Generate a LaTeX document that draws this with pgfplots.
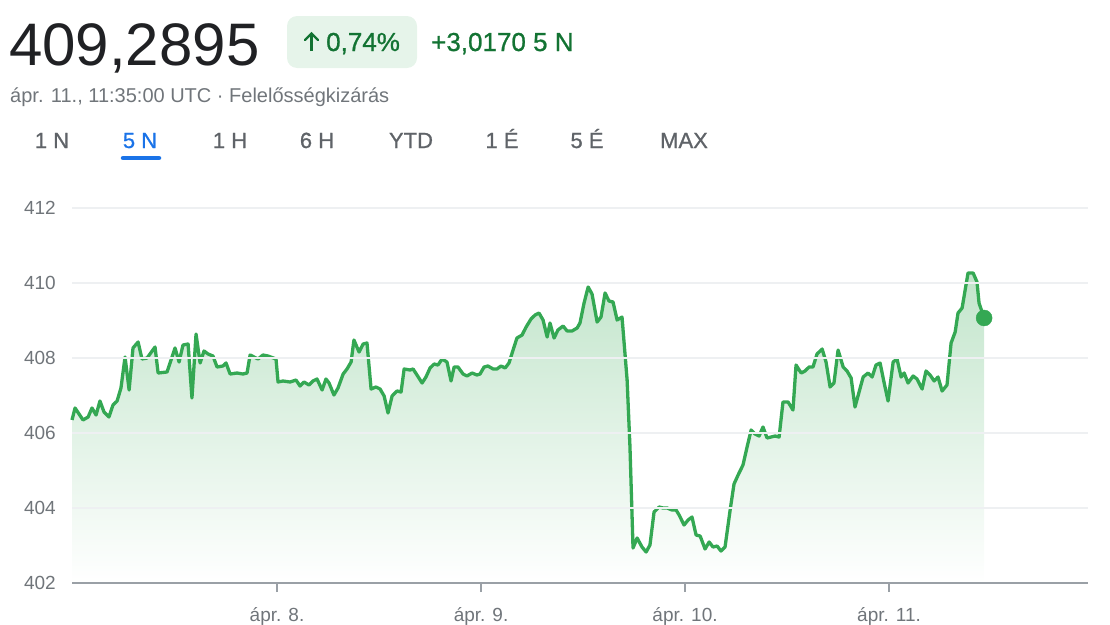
\documentclass[border=0pt]{standalone}
\usepackage{fontspec}
\setmainfont{Liberation Sans}
\newfontfamily\medfont[FakeBold=0.9]{Liberation Sans}
\usepackage{pgfplots}
\usepackage{pgfplotstable}
\pgfplotsset{compat=1.18}
\definecolor{lgreen}{HTML}{34A853}
\definecolor{dgreen}{HTML}{137333}
\definecolor{pill}{HTML}{E6F4EA}
\definecolor{txt}{HTML}{202124}
\definecolor{sub}{HTML}{70757A}
\definecolor{tab}{HTML}{5F6368}
\definecolor{gblue}{HTML}{1A73E8}
\definecolor{gridc}{HTML}{EEF0F2}
\definecolor{axisgray}{HTML}{9AA0A6}
\definecolor{fillgreen}{HTML}{C2E5CB}
\pgfplotstableread{
x y
-0.005 406.347
0.010 406.667
0.049 406.347
0.074 406.427
0.093 406.667
0.113 406.480
0.132 406.853
0.152 406.560
0.176 406.427
0.196 406.747
0.216 406.853
0.235 407.200
0.255 408.027
0.275 407.147
0.294 408.267
0.319 408.427
0.338 407.973
0.363 408.000
0.402 408.293
0.417 407.600
0.461 407.627
0.500 408.267
0.520 407.893
0.539 408.347
0.564 408.373
0.583 406.933
0.603 408.640
0.623 407.867
0.642 408.187
0.662 408.107
0.686 408.053
0.706 407.760
0.735 407.787
0.750 407.867
0.770 407.573
0.804 407.600
0.833 407.573
0.853 407.600
0.868 408.080
0.907 407.973
0.931 408.080
0.956 408.053
0.995 407.973
1.005 407.360
1.029 407.387
1.064 407.360
1.093 407.413
1.113 407.253
1.132 407.360
1.157 407.280
1.176 407.387
1.196 407.440
1.221 407.147
1.240 407.440
1.255 407.333
1.279 407.013
1.299 407.200
1.324 407.573
1.343 407.707
1.363 407.893
1.377 408.480
1.402 408.160
1.422 408.373
1.441 408.400
1.461 407.173
1.485 407.227
1.505 407.173
1.525 406.987
1.544 406.533
1.564 406.987
1.588 407.120
1.608 407.093
1.623 407.707
1.652 407.680
1.667 407.707
1.686 407.547
1.711 407.333
1.730 407.493
1.750 407.733
1.770 407.840
1.789 407.813
1.809 407.973
1.833 407.893
1.853 407.387
1.868 407.760
1.887 407.760
1.912 407.573
1.931 407.520
1.956 407.600
1.980 407.547
1.995 407.573
2.015 407.760
2.034 407.787
2.059 407.707
2.078 407.707
2.098 407.787
2.118 407.733
2.137 407.867
2.157 408.213
2.176 408.533
2.201 408.613
2.221 408.827
2.245 409.040
2.265 409.147
2.284 409.200
2.304 409.013
2.324 408.560
2.338 408.933
2.358 408.533
2.377 408.747
2.402 408.853
2.422 408.720
2.446 408.720
2.471 408.800
2.485 408.933
2.505 409.467
2.525 409.893
2.544 409.707
2.569 408.960
2.588 409.093
2.608 409.733
2.627 409.520
2.647 409.493
2.667 409.013
2.691 409.093
2.716 407.413
2.730 405.627
2.745 402.933
2.765 403.200
2.789 402.960
2.809 402.827
2.828 403.013
2.848 403.893
2.873 404.027
2.892 404.000
2.912 404.000
2.936 403.947
2.956 403.947
2.971 403.813
2.995 403.547
3.015 403.680
3.034 403.760
3.054 403.280
3.074 403.253
3.098 402.907
3.118 403.093
3.137 402.960
3.157 402.987
3.176 402.853
3.196 402.960
3.221 403.947
3.240 404.640
3.260 404.880
3.284 405.147
3.304 405.627
3.324 406.080
3.343 405.973
3.363 405.920
3.382 406.160
3.402 405.867
3.441 405.920
3.461 405.893
3.480 406.827
3.505 406.827
3.529 406.613
3.544 407.813
3.569 407.600
3.588 407.653
3.608 407.760
3.627 407.760
3.647 408.107
3.672 408.240
3.691 407.893
3.711 407.227
3.730 407.333
3.750 408.213
3.775 407.760
3.794 407.653
3.814 407.467
3.833 406.693
3.853 407.093
3.873 407.493
3.897 407.600
3.917 407.493
3.936 407.813
3.956 407.867
3.975 407.360
3.995 406.853
4.020 407.893
4.039 407.973
4.059 407.493
4.074 407.600
4.093 407.333
4.118 407.520
4.137 407.440
4.162 407.173
4.181 407.653
4.201 407.547
4.221 407.387
4.240 407.493
4.260 407.120
4.284 407.280
4.304 408.400
4.324 408.693
4.338 409.200
4.358 409.333
4.387 410.267
4.412 410.267
4.431 410.027
4.441 409.467
4.466 409.067
}\data
\begin{document}
\begin{tikzpicture}[x=1pt,y=1pt]
\useasboundingbox (0,0) rectangle (1110,-624);
% header
\node[anchor=base west, inner sep=0, text=txt, font=\fontsize{60}{60}\selectfont] at (9,-65) {409,2895};
\fill[pill, rounded corners=10pt] (287,-16) rectangle (417,-68);
\draw[dgreen, line width=2.3pt] (311.5,-51) -- (311.5,-33.5);
\draw[dgreen, line width=2.3pt, line cap=round, line join=miter] (305,-40) -- (311.5,-33.5) -- (318,-40);
\node[anchor=base west, inner sep=0, text=dgreen, font=\medfont\fontsize{26}{26}\selectfont] at (326,-51) {0,74\%};
\node[anchor=base west, inner sep=0, text=dgreen, font=\medfont\fontsize{26}{26}\selectfont] at (431,-51) {+3,0170 5 N};
\node[anchor=base west, inner sep=0, text=sub, font=\fontsize{20}{20}\selectfont] at (10,-102) {ápr. 11., 11:35:00 UTC · Felelősségkizárás};
% tabs
\foreach \t/\cx in {1 N/52, 1 H/230, 6 H/317, YTD/411, 1 É/502, 5 É/587, MAX/684}
  \node[anchor=base, inner sep=0, text=tab, font=\medfont\fontsize{22}{22}\selectfont] at (\cx,-148) {\t};
\node[anchor=base, inner sep=0, text=gblue, font=\medfont\fontsize{22}{22}\selectfont] at (140,-148) {5 N};
\draw[gblue, line width=4.5pt, line cap=round] (123,-158) -- (159,-158);
\begin{axis}[
  at={(72pt,-583pt)}, anchor=south west,
  scale only axis, width=1016pt, height=375pt,
  xmin=-0.005, xmax=4.975, ymin=402, ymax=412,
  axis x line*=bottom, axis y line*=left,
  y axis line style={draw=none},
  x axis line style={axisgray, line width=2pt},
  ytick={402,404,...,412},
  ytick style={draw=none},
  ymajorgrids, major grid style={gridc, line width=1.2pt},
  xtick={1,2,3,4},
  xticklabels={ápr. 8.,ápr. 9.,ápr. 10.,ápr. 11.},
  xtick style={axisgray, line width=2.5pt},
  tick align=outside, major tick length=9pt,
  tick label style={text=sub, font=\fontsize{19}{19}\selectfont},
  yticklabel style={anchor=east, inner sep=0pt, xshift=-7pt},
  xticklabel style={anchor=north, inner sep=0pt, yshift=-15pt},
  /pgf/number format/assume math mode=true,
  axis on top,
  clip=false,
]
\addplot[draw=none, top color=fillgreen, bottom color=white] table[x=x,y=y]{\data} -- (4.466,402) -- (-0.005,402) -- cycle;
\addplot[lgreen, line width=3.3pt, line join=round] table[x=x,y=y]{\data};
\addplot[only marks, mark=*, mark size=8pt, mark options={fill=lgreen, draw=lgreen}] coordinates {(4.466,409.067)};
\end{axis}
\end{tikzpicture}
\end{document}
